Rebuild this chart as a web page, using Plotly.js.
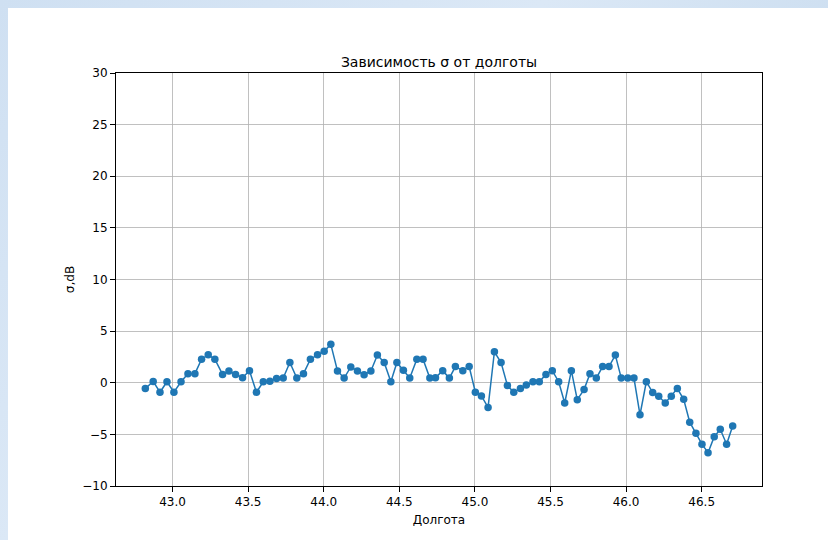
<!DOCTYPE html>
<html>
<head>
<meta charset="utf-8">
<script src="https://cdn.plot.ly/plotly-3.0.1.min.js"></script>
<style>
  html, body { margin: 0; padding: 0; width: 828px; height: 540px; overflow: hidden;
    background: linear-gradient(135deg, #cfe0f2 0%, #dbe8f6 40%, #c9dcef 70%, #d8e6f5 100%); }
  #chart { position: absolute; left: 8px; top: 8px; width: 820px; height: 532px; background: #ffffff; }
</style>
</head>
<body>
<div id="chart"></div>
<script>
const longitude = [
  42.820, 42.872, 42.917, 42.963, 43.009, 43.056, 43.102, 43.148, 43.192, 43.236,
  43.280, 43.331, 43.373, 43.417, 43.463, 43.509, 43.555, 43.600, 43.644, 43.688,
  43.732, 43.776, 43.822, 43.866, 43.912, 43.959, 44.003, 44.047, 44.091, 44.135,
  44.179, 44.223, 44.267, 44.312, 44.355, 44.400, 44.444, 44.484, 44.527, 44.569,
  44.616, 44.657, 44.702, 44.739, 44.787, 44.831, 44.871, 44.920, 44.962, 45.003,
  45.043, 45.087, 45.129, 45.173, 45.215, 45.257, 45.301, 45.340, 45.384, 45.426,
  45.470, 45.512, 45.554, 45.594, 45.638, 45.677, 45.722, 45.761, 45.803, 45.845,
  45.887, 45.929, 45.968, 46.011, 46.052, 46.092, 46.134, 46.176, 46.216, 46.259,
  46.299, 46.339, 46.381, 46.421, 46.462, 46.502, 46.542, 46.583, 46.623, 46.665,
  46.705
];
const sigmaDb = [
  -0.56, 0.13, -0.92, 0.10, -0.92, 0.10, 0.88, 0.88, 2.28, 2.70,
  2.28, 0.81, 1.14, 0.81, 0.49, 1.17, -0.92, 0.10, 0.15, 0.42,
  0.45, 1.96, 0.45, 0.88, 2.28, 2.70, 3.04, 3.72, 1.14, 0.45,
  1.53, 1.14, 0.78, 1.14, 2.68, 1.96, 0.10, 1.96, 1.20, 0.45,
  2.28, 2.28, 0.45, 0.49, 1.17, 0.45, 1.57, 1.17, 1.57, -0.92,
  -1.28, -2.39, 3.00, 1.96, -0.26, -0.92, -0.56, -0.23, 0.10, 0.10,
  0.81, 1.17, 0.10, -1.96, 1.17, -1.64, -0.66, 0.88, 0.45, 1.57,
  1.57, 2.68, 0.45, 0.45, 0.45, -3.10, 0.10, -0.95, -1.31, -1.96,
  -1.31, -0.56, -1.60, -3.82, -4.90, -5.95, -6.77, -5.23, -4.51, -5.95,
  -4.19
];
const xTicks = [43.0, 43.5, 44.0, 44.5, 45.0, 45.5, 46.0, 46.5];
const xTickText = ["43.0", "43.5", "44.0", "44.5", "45.0", "45.5", "46.0", "46.5"];
const yTicks = [-10, -5, 0, 5, 10, 15, 20, 25, 30];

const trace = {
  x: longitude, y: sigmaDb, type: 'scatter', mode: 'lines+markers',
  line: { color: '#1f77b4', width: 1.5 },
  marker: { color: '#1f77b4', size: 7.5 },
  hoverinfo: 'skip'
};

const font = { family: 'DejaVu Sans, sans-serif', size: 12, color: '#000000' };

const layout = {
  width: 820, height: 532,
  margin: { l: 108, r: 66, t: 65, b: 54 },
  paper_bgcolor: '#ffffff', plot_bgcolor: '#ffffff',
  showlegend: false,
  font: font,
  title: { text: 'Зависимость σ от долготы', font: { family: 'DejaVu Sans, sans-serif', size: 14, color: '#000' },
           x: 0.5, xref: 'paper', xanchor: 'center', y: 1, yref: 'paper', yanchor: 'bottom', pad: { b: 6 } },
  xaxis: {
    range: [42.626, 46.899], tickvals: xTicks, ticktext: xTickText,
    showgrid: true, gridcolor: '#b0b0b0', gridwidth: 0.8,
    showline: true, linecolor: '#000', linewidth: 1, mirror: true,
    ticks: 'outside', ticklen: 5, tickcolor: '#000', zeroline: false,
    tickfont: { family: 'DejaVu Sans, sans-serif', size: 12, color: '#000' },
    title: { text: 'Долгота', font: { family: 'DejaVu Sans, sans-serif', size: 12, color: '#000' }, standoff: 7 },
    automargin: false
  },
  yaxis: {
    range: [-10, 30], tickvals: yTicks,
    showgrid: true, gridcolor: '#b0b0b0', gridwidth: 0.8,
    showline: true, linecolor: '#000', linewidth: 1, mirror: true,
    ticks: 'outside', ticklen: 5, tickcolor: '#000', zeroline: false,
    tickfont: { family: 'DejaVu Sans, sans-serif', size: 12, color: '#000' },
    title: { text: 'σ,dB', font: { family: 'DejaVu Sans, sans-serif', size: 12, color: '#000' }, standoff: 5 },
    automargin: false
  }
};

Plotly.newPlot('chart', [trace], layout, { displayModeBar: false, staticPlot: true });
</script>
</body>
</html>
